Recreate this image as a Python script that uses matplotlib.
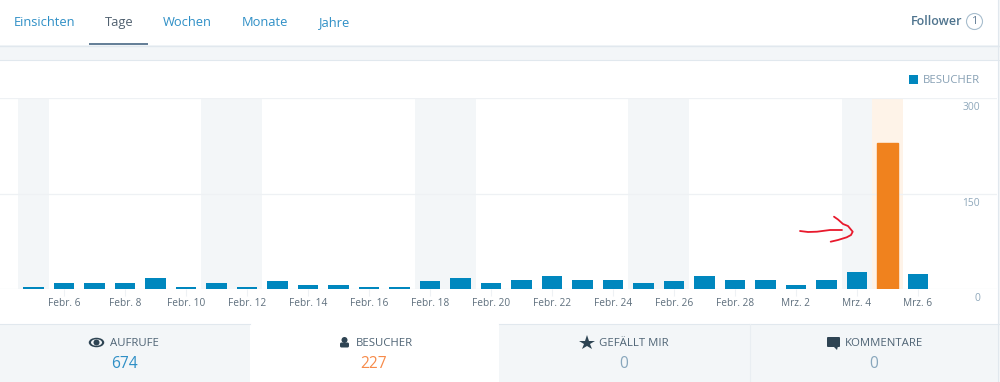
import matplotlib
matplotlib.use("Agg")
import matplotlib.pyplot as plt
from matplotlib.patches import Rectangle, Ellipse, Circle, FancyBboxPatch, Polygon

BLUE, ORANGE, LINK, SLATE, DARK = "#0087be", "#f0821e", "#2e8fc6", "#87a6bc", "#2e4453"
STRIP, BORDER, GRID, PEACH = "#f3f6f8", "#e1e8ee", "#eef1f4", "#fef3e8"
plt.rcParams.update({"font.family": ["Open Sans", "DejaVu Sans"]})

days = ["Febr. 5", "Febr. 6", "Febr. 7", "Febr. 8", "Febr. 9", "Febr. 10", "Febr. 11", "Febr. 12",
        "Febr. 13", "Febr. 14", "Febr. 15", "Febr. 16", "Febr. 17", "Febr. 18", "Febr. 19", "Febr. 20",
        "Febr. 21", "Febr. 22", "Febr. 23", "Febr. 24", "Febr. 25", "Febr. 26", "Febr. 27", "Febr. 28",
        "Mrz. 1", "Mrz. 2", "Mrz. 3", "Mrz. 4", "Mrz. 5", "Mrz. 6"]
visitors = [3, 9, 9, 9, 17, 3, 9, 3, 12, 6, 6, 3, 3, 12, 17, 9, 14, 20, 14, 14, 9, 12, 20, 14, 14, 6, 14, 26, 229, 24]
weekend_days = ["Febr. 5", "Febr. 11", "Febr. 12", "Febr. 18", "Febr. 19", "Febr. 25", "Febr. 26", "Mrz. 4"]
selected_day = "Mrz. 5"
y_ticks = [0, 150, 300]
tabs = ["Einsichten", "Tage", "Wochen", "Monate", "Jahre"]
stat_names = ["AUFRUFE", "BESUCHER", "GEFÄLLT MIR", "KOMMENTARE"]
stat_values = [674, 227, 0, 0]

W, H = 1000, 382
fig = plt.figure(figsize=(W/100, H/100), dpi=100, facecolor="white")

# ---- page chrome, in pixels ----
ui = fig.add_axes([0, 0, 1, 1], zorder=0); ui.set_xlim(0, W); ui.set_ylim(H, 0); ui.axis("off")
ui.add_patch(Rectangle((0, 45), W, 15, color=STRIP, lw=0))
ui.plot([0, W], [45.5, 45.5], color=BORDER, lw=1)
ui.plot([0, W], [60, 60], color=BORDER, lw=0.8)
ui.add_patch(Rectangle((998, 0), 2, H, color=STRIP, lw=0))
ui.plot([997.5, 997.5], [0, H], color=BORDER, lw=0.8)
ui.add_patch(Rectangle((0, 324), 250, 58, color=STRIP, lw=0))
ui.add_patch(Rectangle((499, 324), 501, 58, color=STRIP, lw=0))
ui.plot([0, 250], [323.5, 323.5], color=BORDER, lw=0.8)
ui.plot([499, W], [323.5, 323.5], color=BORDER, lw=0.8)
ui.plot([749.5, 749.5], [324, H], color="#e9eef2", lw=0.8)

tab_x = [14, 105, 163, 242, 319]
for x, name in zip(tab_x, tabs):
    ui.text(x, 22.5, name, fontsize=9.3, color="#50606f" if name == "Tage" else LINK, va="center")
ui.add_patch(Rectangle((89, 43), 59, 2, color="#668098", lw=0))
ui.text(962, 21.5, "Follower", fontsize=9.0, color="#4f748e", fontweight="semibold", va="center", ha="right")
ui.add_patch(Ellipse((974.5, 21.5), 16, 16, fc="white", ec="#a8bece", lw=0.8))
ui.text(974.5, 21, "1", fontsize=8, color="#668098", va="center", ha="center")

# ---- bottom stats ----
label_x = [109.5, 356, 599, 845]
value_x = [124, 374, 624, 874]
value_colors = [LINK, "#f78b4a", SLATE, SLATE]
for lx, vx, name, val, c in zip(label_x, value_x, stat_names, stat_values, value_colors):
    ui.text(lx, 343, name, fontsize=8.2, color="#4f6475", va="center")
    ui.text(vx, 364.5, str(val), fontsize=11.2, color=c, va="center", ha="center")
# eye
ui.add_patch(Ellipse((96.5, 342.5), 15.5, 9.5, color=DARK, lw=0))
ui.add_patch(Ellipse((96.5, 342.5), 11, 6.5, color=STRIP, lw=0))
ui.add_patch(Circle((96.5, 342.5), 3, color=DARK, lw=0))
# person
ui.add_patch(Circle((344.5, 340), 3, color=DARK, lw=0))
ui.add_patch(FancyBboxPatch((341.5, 344), 6, 2, boxstyle="round,pad=1.5", color=DARK, lw=0))
# star
ui.plot([587], [343], marker="*", ms=11.5, color=DARK, mew=0)
# speech bubble
ui.add_patch(FancyBboxPatch((828, 338), 11, 8, boxstyle="round,pad=1", color=DARK, lw=0))
ui.add_patch(Polygon([(833, 346), (838, 346), (837, 350)], color=DARK, lw=0))

# ---- chart: one day = 30.5 px, first bar centred at x = 33.5 px ----
top, base = 98, 289
ax = fig.add_axes([0, 1-base/H, 997/W, (base-top)/H], zorder=1)
ax.patch.set_alpha(0)
xs = list(range(len(days)))
ax.set_xlim(-33.5/30.5, (997-33.5)/30.5)
ax.set_ylim(0, 300)

for name in weekend_days:
    i = days.index(name)
    ax.axvspan(i-0.5, i+0.5, color=STRIP, lw=0, zorder=0)
sel = days.index(selected_day)
ax.axvspan(sel-0.5, sel+0.5, color=PEACH, lw=0, zorder=0)

ax.set_axisbelow(True)
ax.grid(axis="y", color=GRID, lw=0.9)
bars = ax.bar(xs, visitors, width=0.68, color=BLUE, zorder=3, label="BESUCHER")
bars[sel].set_color(ORANGE)

for s in ["top", "left", "right", "bottom"]:
    ax.spines[s].set_visible(False)
ax.set_xticks(xs[1::2])
ax.set_xticklabels(days[1::2], fontsize=7.3, color="#5e6f7d")
ax.tick_params(axis="x", length=5, width=0.8, color="#eef1f4", pad=1.5)
ax.yaxis.tick_right()
ax.set_yticks(y_ticks)
ax.tick_params(axis="y", length=0, pad=-12.2, labelsize=7.4, labelcolor="#8fa8bb")
for t in ax.get_yticklabels():
    t.set_ha("right"); t.set_va("top")
    t.set_transform(t.get_transform() + matplotlib.transforms.ScaledTranslation(0, -3/72, fig.dpi_scale_trans))

leg = ax.legend(loc="lower right", bbox_to_anchor=(980/997, 1.062), frameon=False, handlelength=0.8, handleheight=0.8,
                handletextpad=0.45, borderpad=0, borderaxespad=0, prop={"size": 8.2})
leg.get_texts()[0].set_color("#87a0b4")

# ---- hand drawn red arrow ----
over = fig.add_axes([0, 0, 1, 1], zorder=2); over.set_xlim(0, W); over.set_ylim(H, 0); over.axis("off")
over.plot([800, 808, 817, 830, 842], [231, 232, 231.7, 230, 230], color="#e8192c", lw=1.3, solid_capstyle="round")
over.plot([834, 838, 843, 848, 852.7, 851, 846.7, 838, 830.7], [216.7, 219.5, 224, 226, 231.7, 235, 237.3, 240, 241.7],
          color="#e8192c", lw=1.3, solid_capstyle="round")

fig.savefig("out.png", dpi=100, facecolor="white")
